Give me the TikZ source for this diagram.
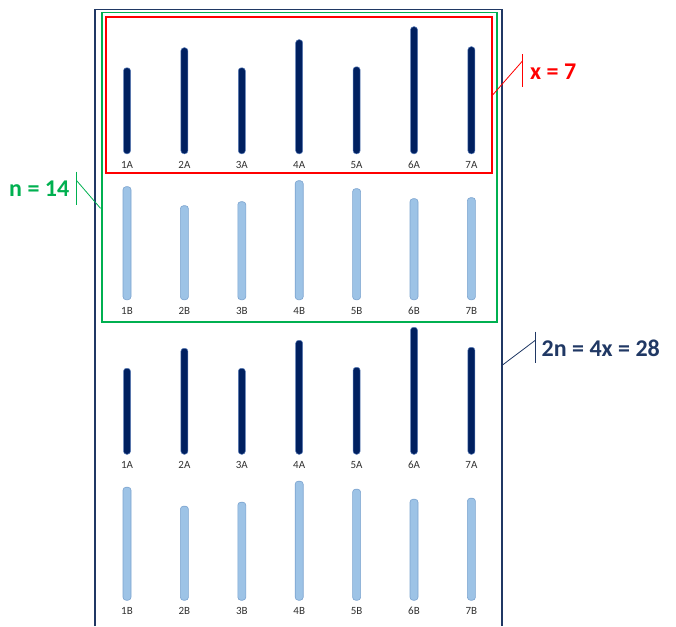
\documentclass[tikz,border=0pt]{standalone}
\usepackage{fontspec}
\setmainfont{Carlito}
\usetikzlibrary{positioning}
\usepackage{xcolor}
\definecolor{ChromNavy}{HTML}{002060}
\definecolor{ChromNavyEdge}{HTML}{5B7DB8}
\definecolor{ChromSky}{HTML}{9DC3E6}
\definecolor{ChromSkyEdge}{HTML}{7BA3CF}
\definecolor{FrameNavy}{HTML}{203864}
\definecolor{SetGreen}{HTML}{00B050}
\definecolor{SetRed}{HTML}{FF0000}
\definecolor{LabelGray}{HTML}{303030}
\tikzset{
    % chromosome bars
    abar/.style={
        rectangle,
        rounded corners=3pt,
        draw=ChromNavyEdge,
        fill=ChromNavy,
        line width=0.5pt,
        minimum width=7pt,
        inner sep=0pt,
        anchor=south
    },
    bbar/.style={
        rectangle,
        rounded corners=3pt,
        draw=ChromSkyEdge,
        fill=ChromSky,
        line width=0.6pt,
        minimum width=8pt,
        inner sep=0pt,
        anchor=south
    },
    barlabel/.style={
        anchor=base,
        inner sep=0pt,
        text=LabelGray,
        font=\fontsize{11}{11}\selectfont
    },
    % set boxes
    xbox/.style={
        rectangle,
        draw=SetRed,
        line width=1.3pt,
        inner sep=0pt
    },
    nbox/.style={
        rectangle,
        draw=SetGreen,
        line width=1.2pt,
        inner sep=0pt
    },
    frame/.style={
        draw=FrameNavy,
        line width=1.1pt
    },
    % callouts
    callout/.style={
        anchor=base west,
        inner sep=0pt,
        font=\fontsize{24}{24}\selectfont\bfseries
    },
    xline/.style={draw=SetRed, line width=0.8pt},
    nline/.style={draw=SetGreen, line width=0.8pt},
    fline/.style={draw=FrameNavy, line width=0.8pt}
}
\begin{document}
\begin{tikzpicture}[x=1pt, y=-1pt]
    \useasboundingbox (0,0) rectangle (676,626);

    \draw[frame] (95,626) -- (95,9.5) -- (502,9.5) -- (502,626);
    \node[nbox, minimum width=395pt, minimum height=309pt] (nbox) at (299.4,167.4) {};
    \node[xbox, minimum width=386pt, minimum height=156pt] (xbox) at (299,95) {};

    \foreach \g/\dy in {1/0, 2/300.5} {
        \foreach \h [count=\i] in {86,106,86,114,87,127,107} {
            \node[abar, minimum height=\h pt] (a\g\i) at ({127+57.4*(\i-1)}, 154+\dy) {};
            \node[barlabel] (la\g\i) at ({127+57.4*(\i-1)}, 168+\dy) {\i A};
        }
        \foreach \h [count=\i] in {113,94,98,119,111,101,102} {
            \node[bbar, minimum height=\h pt] (b\g\i) at ({127+57.4*(\i-1)}, 300+\dy) {};
            \node[barlabel] (lb\g\i) at ({127+57.4*(\i-1)}, 314+\dy) {\i B};
        }
    }

    % x = 7
    \node[callout, text=SetRed] (xlab) at (530,79.5) {x = 7};
    \coordinate (xtop) at (522.7,54);
    \coordinate (xbot) at (522.7,87);
    \coordinate (xjoin) at (522.7,60.7);
    \draw[xline] (xtop) -- (xbot);
    \draw[xline] (xbox.east) -- (xjoin);

    % n = 14
    \node[callout, text=SetGreen] (nlab) at (9,196) {n = 14};
    \coordinate (ntop) at (76.7,171.7);
    \coordinate (nbot) at (76.7,205);
    \coordinate (njoin) at (76.7,180.7);
    \coordinate (nfoot) at (100.5,208.3);
    \draw[nline] (ntop) -- (nbot);
    \draw[nline] (njoin) -- (nfoot);

    % 2n = 4x = 28
    \node[callout, text=FrameNavy] (tlab) at (541.5,356.7) {2n = 4x = 28};
    \coordinate (ttop) at (535.7,331.7);
    \coordinate (tbot) at (535.7,363.3);
    \coordinate (tjoin) at (535.7,340);
    \coordinate (tfoot) at (502.5,365);
    \draw[fline] (ttop) -- (tbot);
    \draw[fline] (tfoot) -- (tjoin);
\end{tikzpicture}
\end{document}
